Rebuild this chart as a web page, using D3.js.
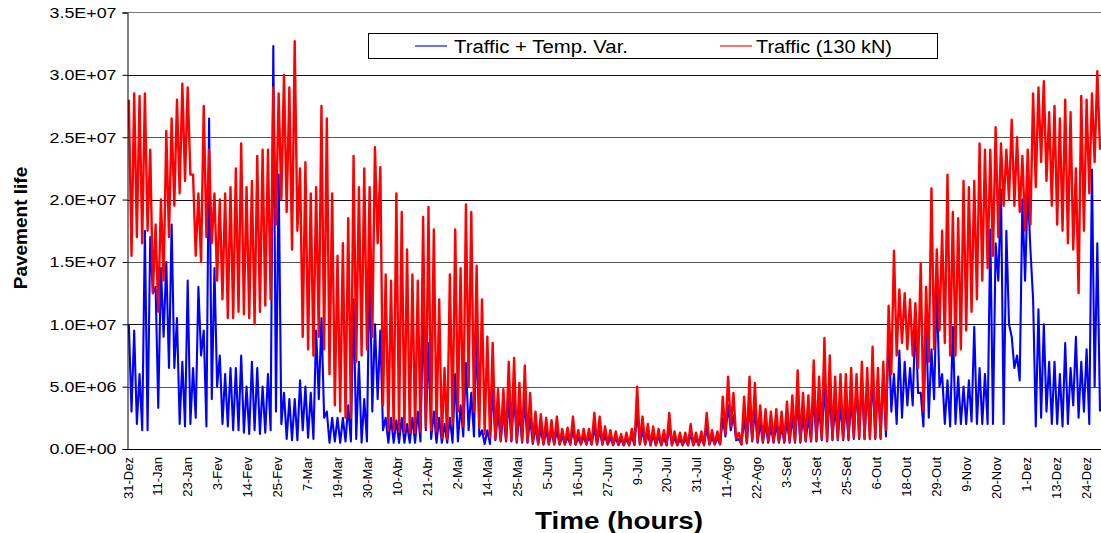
<!DOCTYPE html>
<html>
<head>
<meta charset="utf-8">
<script src="https://cdn.jsdelivr.net/npm/d3@7"></script>
<style>
  body { margin: 0; background: #fff; }
  svg { display: block; font-family: "Liberation Sans", Arial, sans-serif; }
</style>
</head>
<body>
<div id="chart"></div>
<script>
// valores, en millones, por bloques de 2 dias (max y min de cada bloque)
var redHi = [
  28.0, 28.5, 28.3, 28.5, 24.0, 18.0, 20.0, 25.5, 26.5, 28.0,
  29.3, 29.0, 22.0, 20.5, 27.5, 24.0, 20.5, 20.0, 20.5, 21.0,
  22.5, 24.5, 21.0, 21.5, 23.5, 24.0, 24.0, 29.0, 28.5, 30.0,
  29.0, 32.7, 22.5, 23.0, 20.5, 21.0, 27.5, 26.5, 20.5, 15.5,
  16.5, 18.5, 23.5, 21.0, 22.5, 21.0,
  24.2, 22.6, 14.0, 13.5, 20.5, 19.0, 16.0, 14.0, 13.5, 18.6,
  19.4, 17.6, 12.0, 6.5, 14.0, 17.6, 14.5, 19.6, 19.0, 14.7,
  12.0, 9.0, 8.5, 4.8, 4.8, 7.0, 7.3, 5.3, 6.7, 4.5,
  3.0, 2.8, 2.5, 2.3, 2.6, 1.6, 1.7, 2.6, 1.5, 1.6,
  1.6, 2.9, 2.6, 1.8, 1.5,
  1.4, 1.2, 1.3, 1.6, 5.0, 2.6, 2.0, 1.8, 1.6, 1.5,
  2.9, 1.4, 1.3, 1.3, 2.0, 1.3, 1.4, 2.9, 1.5, 1.4,
  4.2, 5.8, 4.5, 1.3, 4.2, 5.8, 5.3, 3.5, 3.2, 3.0,
  3.2, 3.0, 3.8, 4.3, 6.3, 4.5, 4.3, 7.1, 5.8, 8.9,
  7.5, 5.8, 6.0, 6.0, 6.5,
  6.0, 7.0, 6.5, 8.2, 6.5, 7.0, 11.5, 15.9, 12.8, 12.5,
  12.0, 11.7, 14.9, 13.0, 20.9, 16.0, 17.5, 22.0, 19.0, 18.5,
  21.5, 21.0, 21.5, 24.5, 24.0, 24.0, 25.8, 24.5, 24.0, 26.4,
  25.0, 23.5, 24.0, 28.5, 29.0, 29.5, 27.0, 27.5, 26.5, 28.0,
  27.0, 22.5, 28.3, 28.0, 28.5, 30.3
];
var redLo = [
  15.5, 17.0, 16.5, 17.5, 12.5, 11.0, 13.5, 17.0, 19.5, 20.5,
  21.5, 22.0, 15.5, 15.0, 17.0, 16.5, 13.5, 12.0, 10.5, 10.5,
  11.0, 10.8, 10.5, 10.0, 11.0, 11.5, 12.0, 18.0, 20.0, 19.0,
  16.0, 17.5, 9.0, 8.0, 7.5, 9.0, 8.0, 6.0, 3.5, 3.0,
  2.5, 2.5, 7.0, 7.5, 8.0, 9.0,
  16.5, 3.5, 1.5, 1.5, 1.4, 1.3, 1.3, 1.3, 1.4, 1.8,
  1.5, 1.4, 0.9, 0.8, 2.0, 3.0, 1.8, 5.0, 3.0, 1.7,
  1.2, 0.9, 0.8, 0.7, 0.7, 0.7, 0.6, 0.6, 0.6, 0.5,
  0.4, 0.4, 0.4, 0.4, 0.4, 0.4, 0.4, 0.4, 0.4, 0.4,
  0.4, 0.4, 0.4, 0.4, 0.35,
  0.35, 0.3, 0.3, 0.35, 0.4, 0.4, 0.3, 0.3, 0.3, 0.3,
  0.3, 0.3, 0.3, 0.3, 0.3, 0.3, 0.3, 0.4, 0.4, 0.4,
  1.2, 1.8, 0.8, 0.4, 0.5, 0.7, 0.6, 0.6, 0.6, 0.6,
  0.6, 0.6, 0.6, 0.6, 0.6, 0.7, 0.7, 0.7, 0.8, 0.7,
  0.8, 0.8, 0.8, 0.8, 0.9,
  0.9, 0.8, 0.8, 0.9, 0.9, 1.5, 6.0, 7.5, 8.5, 8.0,
  7.5, 6.5, 3.0, 7.0, 8.0, 9.5, 8.5, 7.5, 7.5, 8.0,
  9.5, 11.0, 12.0, 13.5, 14.5, 15.5, 17.0, 19.5, 20.0, 19.5,
  19.0, 17.5, 18.0, 21.0, 23.0, 21.5, 19.5, 18.0, 17.5, 16.5,
  16.0, 12.5, 17.5, 20.5, 23.0, 24.0
];
var blueHi = [
  10.0, 9.5, 6.0, 17.5, 17.0, 13.0, 14.5, 15.0, 18.0, 10.5,
  7.0, 13.5, 6.5, 13.0, 9.5, 26.5, 14.5, 7.5, 6.0, 6.5,
  6.5, 7.5, 5.0, 7.0, 6.5, 5.0, 6.0, 32.3, 22.0, 4.5,
  4.0, 4.0, 5.5, 5.0, 4.5, 9.5, 10.5, 3.0, 2.5, 2.5,
  2.5, 3.5, 12.0, 7.0, 4.0, 15.5,
  10.0, 9.5, 2.5, 2.5, 2.3, 2.5, 2.0, 2.5, 3.0, 11.0,
  8.5, 3.0, 2.5, 2.0, 2.5, 6.0, 3.5, 6.9, 4.5, 9.3,
  1.5, 1.5, 5.0, 3.0, 3.0, 4.0, 4.5, 3.0, 4.0, 2.5,
  1.8, 1.6, 1.5, 1.4, 1.5, 1.0, 1.0, 1.5, 0.9, 1.0,
  1.0, 1.7, 1.5, 1.1, 0.9,
  0.9, 0.8, 0.8, 1.0, 3.0, 1.5, 1.2, 1.1, 1.0, 0.9,
  1.7, 0.9, 0.8, 0.8, 1.2, 0.8, 0.9, 1.7, 0.9, 0.9,
  2.5, 3.5, 2.7, 0.8, 2.5, 3.5, 3.2, 2.1, 2.0, 1.8,
  2.0, 1.8, 2.3, 2.6, 3.8, 2.7, 2.6, 4.3, 3.5, 5.3,
  4.5, 3.5, 3.6, 3.6, 4.0,
  5.0, 5.5, 5.0, 6.0, 5.5, 6.0, 9.8, 6.0, 7.9, 7.0,
  6.5, 10.6, 4.5, 10.5, 8.0, 13.0, 6.0, 5.5, 9.8, 5.8,
  5.0, 5.5, 9.8, 6.5, 6.0, 17.6, 16.5, 20.8, 17.5, 9.0,
  7.5, 20.0, 21.0, 12.0, 11.2, 10.0, 7.0, 7.0, 6.0, 8.5,
  6.5, 9.0, 7.0, 8.0, 22.4, 16.5
];
var blueLo = [
  3.0, 2.0, 1.5, 1.5, 12.5, 3.3, 9.0, 6.5, 6.5, 2.0,
  1.8, 2.0, 2.5, 7.5, 1.8, 4.0, 5.0, 2.0, 1.8, 1.5,
  1.5, 1.3, 1.2, 1.5, 1.2, 1.3, 1.5, 3.0, 2.0, 0.8,
  0.7, 0.7, 1.5, 0.9, 0.8, 4.0, 2.5, 0.5, 0.6, 0.5,
  0.6, 0.6, 0.8, 0.5, 0.6, 3.0,
  4.0, 1.5, 0.5, 0.5, 0.5, 0.5, 0.5, 0.5, 0.6, 1.5,
  0.8, 0.5, 0.5, 0.5, 0.5, 0.6, 1.0, 1.5, 1.0, 1.0,
  0.4, 0.4, 0.7, 0.6, 0.6, 0.6, 0.5, 0.5, 0.5, 0.4,
  0.35, 0.35, 0.35, 0.35, 0.35, 0.35, 0.35, 0.35, 0.35, 0.35,
  0.35, 0.35, 0.35, 0.35, 0.3,
  0.3, 0.3, 0.3, 0.3, 0.35, 0.35, 0.3, 0.3, 0.3, 0.3,
  0.3, 0.3, 0.3, 0.3, 0.3, 0.3, 0.3, 0.35, 0.35, 0.35,
  1.0, 1.5, 0.7, 0.35, 0.45, 0.6, 0.5, 0.5, 0.5, 0.5,
  0.5, 0.5, 0.5, 0.5, 0.5, 0.6, 0.6, 0.6, 0.7, 0.6,
  0.7, 0.7, 0.7, 0.7, 0.8,
  0.8, 0.8, 0.8, 0.8, 0.8, 1.0, 3.0, 2.0, 2.5, 3.5,
  3.5, 4.5, 1.8, 2.5, 4.0, 5.0, 2.0, 1.8, 2.0, 2.0,
  2.0, 2.2, 2.0, 2.0, 2.0, 2.0, 13.5, 2.0, 10.0, 6.5,
  5.5, 13.5, 16.0, 1.8, 2.5, 3.0, 2.0, 2.0, 1.8, 2.0,
  3.5, 2.5, 3.0, 2.0, 5.0, 3.0
];

var tickLabels = ['31-Dez','11-Jan','23-Jan','3-Fev','14-Fev','25-Fev','7-Mar','19-Mar','30-Mar',
  '10-Abr','21-Abr','2-Mai','14-Mai','25-Mai','5-Jun','16-Jun','27-Jun','9-Jul','20-Jul','31-Jul',
  '11-Ago','22-Ago','3-Set','14-Set','25-Set','6-Out','18-Out','29-Out','9-Nov','20-Nov','1-Dez',
  '13-Dez','24-Dez'];
var yTicks = [0, 5e6, 1e7, 1.5e7, 2e7, 2.5e7, 3e7, 3.5e7];
var yTickLabels = ['0.0E+00','5.0E+06','1.0E+07','1.5E+07','2.0E+07','2.5E+07','3.0E+07','3.5E+07'];
var seriesNames = ['Traffic + Temp. Var.', 'Traffic (130 kN)'];

// lienzo
var chartW = 1101, chartH = 533;
var plotLeft = 127.5, plotTop = 12.5, plotBottom = 449;
var tickEvery = 268.6; // horas entre etiquetas

var svg = d3.select('#chart').append('svg')
    .attr('width', chartW)
    .attr('height', chartH);

svg.append('rect').attr('width', chartW).attr('height', chartH).attr('fill', '#fff');

var x = d3.scaleLinear().domain([0, 8760]).range([plotLeft, 1104]);
var y = d3.scaleLinear().domain([0, 3.5e7]).range([plotBottom, plotTop]);

svg.append('defs').append('clipPath').attr('id', 'plot')
  .append('rect').attr('x', plotLeft).attr('y', 0).attr('width', chartW - plotLeft).attr('height', plotBottom + 1);

// lineas de rejilla
svg.append('g').selectAll('line')
  .data(yTicks.slice(1, -1))
  .enter().append('line')
  .attr('x1', plotLeft).attr('x2', chartW)
  .attr('y1', function(d) { return Math.round(y(d)) + 0.5; })
  .attr('y2', function(d) { return Math.round(y(d)) + 0.5; })
  .attr('stroke', function(d, i) { return i % 2 ? '#111' : '#555'; })
  .attr('stroke-width', 1);

// series en zigzag (max, min de cada bloque)
function zig(hi, lo) {
  var pts = [];
  hi.forEach(function(h, i) {
    pts.push([(2 * i + 0.5) * 24, h * 1e6]);
    pts.push([(2 * i + 1.5) * 24, lo[i] * 1e6]);
  });
  return pts;
}
var line = d3.line().x(function(d) { return x(d[0]); }).y(function(d) { return y(d[1]); });

var plot = svg.append('g').attr('clip-path', 'url(#plot)');
plot.append('path').datum(zig(blueHi, blueLo))
  .attr('d', line).attr('fill', 'none').attr('stroke', '#0000ff')
  .attr('stroke-width', 2.1).attr('stroke-linejoin', 'round');
plot.append('path').datum(zig(redHi, redLo))
  .attr('d', line).attr('fill', 'none').attr('stroke', '#ff0000')
  .attr('stroke-width', 2.4).attr('stroke-linejoin', 'round');

// ejes
var yaxis = d3.axisLeft(y).tickValues(yTicks)
  .tickFormat(function(d, i) { return yTickLabels[i]; })
  .tickSize(5).tickPadding(6);
var gy = svg.append('g').attr('transform', 'translate(' + plotLeft + ',0)').call(yaxis);
gy.select('.domain').attr('stroke', '#000');
gy.selectAll('.tick line').attr('stroke', '#000');
gy.selectAll('.tick text')
  .attr('font-size', '15px').attr('fill', '#000')
  .attr('font-family', '"Liberation Sans", Arial, sans-serif')
  .attr('textLength', 67).attr('lengthAdjust', 'spacingAndGlyphs');

var tickHours = tickLabels.map(function(d, i) { return i * tickEvery; });
var xaxis = d3.axisBottom(x).tickValues(tickHours)
  .tickFormat(function(d, i) { return tickLabels[i]; })
  .tickSize(0);
var gx = svg.append('g').attr('transform', 'translate(0,' + plotBottom + ')').call(xaxis);
gx.select('.domain').attr('stroke', '#000');
gx.selectAll('.tick text')
  .attr('font-size', '13px').attr('fill', '#000')
  .attr('font-family', '"Liberation Sans", Arial, sans-serif')
  .attr('text-anchor', 'end')
  .attr('dy', null).attr('y', null)
  .attr('transform', 'translate(4.5,8) rotate(-90)');

// borde superior
svg.append('line').attr('x1', plotLeft).attr('x2', chartW).attr('y1', plotTop).attr('y2', plotTop)
  .attr('stroke', '#777').attr('stroke-width', 1);

// titulos
svg.append('text')
  .attr('transform', 'translate(27,228) rotate(-90)')
  .attr('text-anchor', 'middle')
  .attr('font-size', '19px').attr('font-weight', 'bold')
  .text('Pavement life');

svg.append('text')
  .attr('x', 619).attr('y', 529)
  .attr('text-anchor', 'middle')
  .attr('font-size', '24px').attr('font-weight', 'bold')
  .attr('textLength', 168).attr('lengthAdjust', 'spacingAndGlyphs')
  .text('Time (hours)');

// leyenda
var legend = svg.append('g');
legend.append('rect')
  .attr('x', 368.5).attr('y', 33.5).attr('width', 569).attr('height', 25)
  .attr('fill', '#fff').attr('stroke', '#000');
var legItems = [
  { name: seriesNames[0], color: '#0000ff', x0: 415, tx: 454, tw: 174 },
  { name: seriesNames[1], color: '#ff0000', x0: 720, tx: 756, tw: 136 }
];
legItems.forEach(function(d) {
  legend.append('line')
    .attr('x1', d.x0).attr('x2', d.x0 + 32).attr('y1', 46).attr('y2', 46)
    .attr('stroke', d.color).attr('stroke-width', 1.6).attr('opacity', 0.7);
  legend.append('text')
    .attr('x', d.tx).attr('y', 52.5)
    .attr('font-size', '18px')
    .attr('textLength', d.tw).attr('lengthAdjust', 'spacingAndGlyphs')
    .text(d.name);
});
</script>
</body>
</html>
